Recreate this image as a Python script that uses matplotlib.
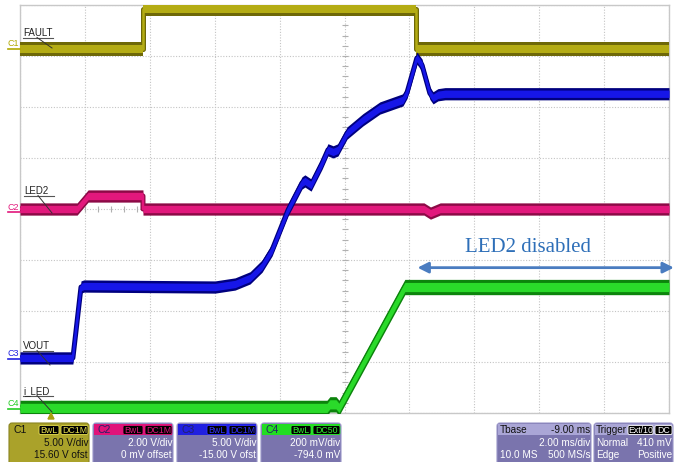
import numpy as np
import matplotlib.pyplot as plt
from matplotlib.patches import FancyBboxPatch, Rectangle

# time axis in ms (2 ms/div, 10 div), levels in screen divisions (0 = centre line)
fault_t = [0, 3.79, 3.79, 12.20, 12.20, 20]
fault_y = [3.14, 3.14, 3.93, 3.93, 3.14, 3.14]

led2_t = [0, 1.76, 2.10, 3.79, 3.79, 12.45, 12.65, 12.95, 20]
led2_y = [0.0, 0.0, 0.255, 0.255, 0.0, 0.0, -0.08, 0.0, 0.0]

vout_t = [0, 1.63, 1.73, 1.88, 1.97, 6.01, 6.63, 7.09, 7.46, 7.77, 8.26, 8.69, 8.78,
          8.97, 9.31, 9.49, 9.65, 9.80, 10.08, 10.57, 11.09, 11.80, 11.93, 12.23,
          12.39, 12.63, 12.73, 12.88, 13.10, 20]
vout_y = [-2.92, -2.92, -2.37, -1.53, -1.51, -1.53, -1.47, -1.35, -1.12, -0.80, -0.02,
          0.51, 0.55, 0.47, 0.90, 1.16, 1.12, 1.16, 1.49, 1.75, 1.98, 2.14, 2.29, 2.96,
          2.82, 2.27, 2.18, 2.24, 2.26, 2.26]

iled_t = [0, 9.46, 9.55, 9.74, 9.83, 11.86, 20]
iled_y = [-3.90, -3.90, -3.83, -3.83, -3.90, -1.53, -1.53]

labels = ["FAULT", "LED2", "VOUT", "i_LED"]

W, H = 680, 462
fig = plt.figure(figsize=(W / 100, H / 100), dpi=100)
plt.rcParams['font.family'] = ['Liberation Sans', 'DejaVu Sans']

L, T, R, B = 20, 5, 669, 413
ax = fig.add_axes([L / W, 1 - B / H, (R - L) / W, (B - T) / H])
ax.set_xlim(0, 20)
ax.set_ylim(-4, 4)
ax.set_xticks(np.arange(0, 21, 2))
ax.set_yticks(np.arange(-4, 5, 1))
ax.tick_params(length=0, labelbottom=False, labelleft=False)
ax.grid(True, color='#c4c4c4', linestyle=(0, (1, 1.5)), linewidth=0.8)
for s in ax.spines.values():
    s.set_color('#c8c8c8')
    s.set_linewidth(1.0)

# centre axis minor ticks
mt = np.arange(0, 20.01, 0.4)
ax.plot(mt, np.zeros_like(mt), linestyle='none', marker='|', ms=4, color='#b0b0b0', mew=0.8)
my = np.arange(-4, 4.01, 0.2)
ax.plot(np.full_like(my, 10), my, linestyle='none', marker='_', ms=4, color='#b0b0b0', mew=0.8)


def trace(t, y, h, dark, bright, z):
    t = np.array(t); y = np.array(y)
    ax.fill_between(t, y - h, y + h, color=dark, lw=0, zorder=z)
    ax.plot(t, y, color=dark, lw=3.6, zorder=z, solid_joinstyle='round')
    ax.fill_between(t, y - h * 0.6, y + h * 0.6, color=bright, lw=0, zorder=z)
    ax.plot(t, y, color=bright, lw=1.8, zorder=z, solid_joinstyle='round')


trace(fault_t, fault_y, 0.14, '#6e6808', '#b4ac14', 3)
trace(led2_t, led2_y, 0.12, '#8c0a46', '#e2187c', 4)
trace(vout_t, vout_y, 0.12, '#00007e', '#1616e8', 5)
trace(iled_t, iled_y, 0.15, '#0c840c', '#2ada2a', 6)

# annotation
ax.annotate('', xy=(12.25, -1.15), xytext=(20.15, -1.15),
            arrowprops=dict(arrowstyle='<|-|>', color='#4a7cc0', lw=2,
                            mutation_scale=16, shrinkA=0, shrinkB=0),
            annotation_clip=False, zorder=8)
ax.text(15.65, -0.76, 'LED2 disabled', color='#2e6fb8', fontsize=15,
        family=['Liberation Serif', 'DejaVu Serif'], ha='center', va='center', zorder=8)

# overlay in pixel coordinates
ov = fig.add_axes([0, 0, 1, 1], facecolor='none')
ov.set_xlim(0, W)
ov.set_ylim(H, 0)
ov.axis('off')

# channel labels with leader lines
lab_pos = [(23, 33, 52, 48), (24, 191, 52, 213), (23, 346, 50, 365), (23, 391, 52, 412)]
for txt, (x, y, x2, y2) in zip(labels, lab_pos):
    ov.text(x, y, txt, fontsize=7, color='#222222', va='center', ha='left')
    ov.plot([x, x + 30], [y + 4.5, y + 4.5], color='#555555', lw=0.8)
    ov.plot([x + 14, x2], [y + 4.5, y2], color='#333333', lw=0.7)

# channel ground markers on the left
for name, yy, c in [('C1', 44, '#b0a800'), ('C2', 207, '#e2187c'),
                    ('C3', 354, '#2020e0'), ('C4', 404, '#22cc22')]:
    ov.text(8, yy, name, fontsize=6.5, color=c, ha='left', va='center')
    ov.plot([8, 20], [yy + 4.5, yy + 4.5], color=c, lw=1.2)

# trigger marker
ov.fill([48, 54, 51], [419, 419, 413], color='#a89f10')

# status boxes
chans = [('C1', '#aaa22a', '#1a1a00', 'DC1M', '5.00 V/div', '15.60 V ofst', '#e8e050'),
         ('C2', '#7a74ad', '#e0137a', 'DC1M', '2.00 V/div', '0 mV offset', '#e0137a'),
         ('C3', '#7a74ad', '#2020e0', 'DC1M', '5.00 V/div', '-15.00 V ofst', '#3030ff'),
         ('C4', '#7a74ad', '#22dd22', 'DC50', '200 mV/div', '-794.0 mV', '#30f030')]
for i, (nm, bg, hc, cp, r2, r3, tc) in enumerate(chans):
    x0 = 9 + 84 * i
    ov.add_patch(FancyBboxPatch((x0, 423), 80, 42, boxstyle='round,pad=0,rounding_size=3',
                                fc=bg, ec='#9a96c8' if i else '#8a8420', lw=0.8))
    fg = '#111111' if i == 0 else 'white'
    if i:
        ov.add_patch(Rectangle((x0 + 1, 424), 78, 11, fc=hc, ec='none'))
    ov.text(x0 + 4, 430, nm, fontsize=7.5, color='#111111' if i == 0 else '#222266',
            va='center')
    for tx, tw, tag in [(x0 + 30, 20, 'BwL'), (x0 + 52, 27, cp)]:
        ov.add_patch(FancyBboxPatch((tx, 425.5), tw, 9, boxstyle='round,pad=0,rounding_size=1.5',
                                    fc='black', ec=tc, lw=0.6))
        ov.text(tx + tw / 2, 430.3, tag, fontsize=6.3, color=tc, ha='center', va='center')
    ov.text(x0 + 79, 443, r2, fontsize=7.2, color=fg, ha='right', va='center')
    ov.text(x0 + 79, 455, r3, fontsize=7.2, color=fg, ha='right', va='center')

# timebase box
ov.add_patch(FancyBboxPatch((497, 423), 94, 42, boxstyle='round,pad=0,rounding_size=3',
                            fc='#7a74ad', ec='#9a96c8', lw=0.8))
ov.add_patch(Rectangle((498, 424), 92, 11, fc='#aaa6d6', ec='none'))
ov.text(500, 430, 'Tbase', fontsize=7.2, color='#111111', va='center')
ov.text(590, 430, '-9.00 ms', fontsize=7.2, color='#111111', va='center', ha='right')
ov.text(590, 443, '2.00 ms/div', fontsize=7.2, color='white', va='center', ha='right')
ov.text(500, 455, '10.0 MS', fontsize=7.2, color='white', va='center')
ov.text(590, 455, '500 MS/s', fontsize=7.2, color='white', va='center', ha='right')

# trigger box
ov.add_patch(FancyBboxPatch((594, 423), 79, 42, boxstyle='round,pad=0,rounding_size=3',
                            fc='#7a74ad', ec='#9a96c8', lw=0.8))
ov.add_patch(Rectangle((595, 424), 77, 11, fc='#aaa6d6', ec='none'))
ov.text(596, 430, 'Trigger', fontsize=7.2, color='#111111', va='center')
for tx, tw, tag in [(628, 25, 'Ext/10'), (655, 17, 'DC')]:
    ov.add_patch(FancyBboxPatch((tx, 425.5), tw, 9, boxstyle='round,pad=0,rounding_size=1.5',
                                fc='black', ec='white', lw=0.6))
    ov.text(tx + tw / 2, 430.3, tag, fontsize=6.3, color='white', ha='center', va='center')
ov.text(596, 443, 'Normal', fontsize=7.2, color='white', va='center')
ov.text(672, 443, '410 mV', fontsize=7.2, color='white', va='center', ha='right')
ov.text(596, 455, 'Edge', fontsize=7.2, color='white', va='center')
ov.text(672, 455, 'Positive', fontsize=7.2, color='white', va='center', ha='right')

fig.savefig('out.png', dpi=100)
